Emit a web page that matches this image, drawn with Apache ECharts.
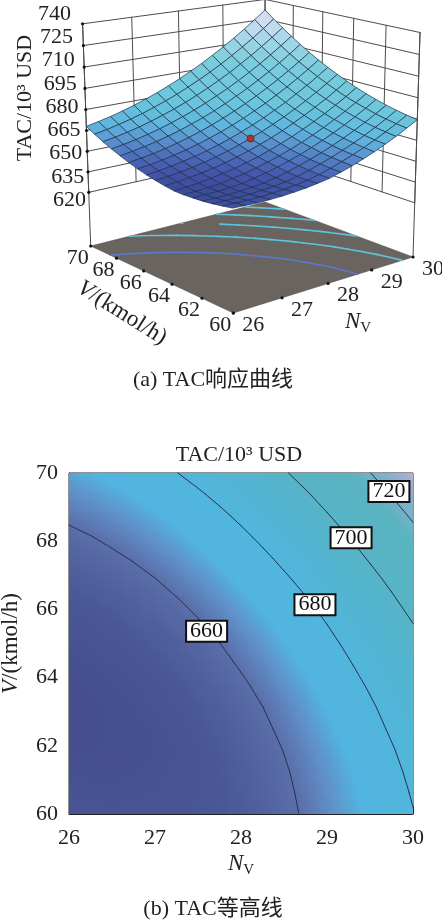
<!DOCTYPE html>
<html>
<head>
<meta charset="utf-8">
<style>
    html, body { margin: 0; padding: 0; background: #fff; }
    #main { width: 442px; height: 923px; }
</style>
<script src="https://cdn.jsdelivr.net/npm/echarts@6/dist/echarts.min.js"></script>
</head>
<body>
<div id="main"></div>
<script>
// values (contours + 3D surface)
var nGrid = [26, 26.25, 26.5, 26.75, 27, 27.25, 27.5, 27.75, 28, 28.25, 28.5, 28.75, 29, 29.25, 29.5, 29.75, 30];
var vGrid = [60, 60.625, 61.25, 61.875, 62.5, 63.125, 63.75, 64.375, 65, 65.625, 66.25, 66.875, 67.5, 68.125, 68.75, 69.375, 70];
// one row per vGrid entry, one column per nGrid entry
var tacGrid = [
    [649.5, 649.1, 648.8, 648.9, 649.2, 649.8, 650.6, 651.8, 653.2, 655.5, 658.0, 660.9, 664.0, 667.5, 671.2, 675.3, 679.6],
    [648.3, 648.1, 647.9, 648.1, 648.5, 649.1, 650.1, 651.4, 653.4, 655.8, 658.5, 661.5, 664.7, 668.3, 672.2, 676.3, 680.8],
    [647.2, 647.1, 647.1, 647.4, 648.0, 648.7, 649.8, 651.7, 653.9, 656.4, 659.2, 662.3, 665.7, 669.3, 673.3, 677.6, 682.2],
    [646.4, 646.3, 646.5, 646.9, 647.6, 648.6, 650.3, 652.3, 654.7, 657.3, 660.2, 663.4, 666.9, 670.7, 674.8, 679.2, 683.9],
    [646.0, 646.1, 646.4, 647.0, 647.9, 649.4, 651.3, 653.4, 655.8, 658.5, 661.6, 664.9, 668.5, 672.4, 676.7, 681.2, 686.0],
    [645.7, 645.9, 646.5, 647.3, 648.7, 650.3, 652.3, 654.5, 657.1, 659.9, 663.0, 666.5, 670.2, 674.3, 678.6, 683.3, 688.2],
    [645.8, 646.4, 647.2, 648.4, 649.9, 651.6, 653.7, 656.0, 658.7, 661.7, 664.9, 668.5, 672.4, 676.5, 681.0, 685.7, 690.8],
    [646.8, 647.5, 648.5, 649.7, 651.3, 653.2, 655.4, 657.9, 660.7, 663.7, 667.1, 670.8, 674.8, 679.1, 683.6, 688.5, 693.7],
    [648.0, 648.8, 649.9, 651.3, 653.0, 655.0, 657.3, 659.9, 662.8, 666.0, 669.5, 673.3, 677.4, 681.8, 686.5, 691.5, 696.8],
    [649.5, 650.4, 651.6, 653.2, 655.0, 657.1, 659.5, 662.2, 665.3, 668.6, 672.2, 676.1, 680.3, 684.9, 689.7, 694.8, 700.2],
    [651.3, 652.3, 653.7, 655.3, 657.3, 659.5, 662.0, 664.9, 668.0, 671.4, 675.2, 679.2, 683.6, 688.2, 693.1, 698.4, 703.9],
    [653.4, 654.6, 656.0, 657.8, 659.8, 662.2, 664.8, 667.8, 671.1, 674.6, 678.5, 682.6, 687.1, 691.8, 696.9, 702.2, 707.9],
    [655.8, 657.1, 658.7, 660.5, 662.7, 665.2, 668.0, 671.0, 674.4, 678.1, 682.1, 686.3, 690.9, 695.8, 701.0, 706.4, 712.2],
    [658.4, 659.8, 661.5, 663.5, 665.8, 668.4, 671.3, 674.5, 678.0, 681.8, 685.8, 690.2, 694.9, 699.9, 705.2, 710.8, 716.7],
    [661.3, 662.8, 664.6, 666.7, 669.2, 671.9, 674.9, 678.2, 681.8, 685.7, 689.9, 694.4, 699.3, 704.4, 709.8, 715.5, 721.5],
    [664.5, 666.1, 668.1, 670.3, 672.8, 675.7, 678.8, 682.2, 686.0, 690.0, 694.3, 698.9, 703.9, 709.1, 714.6, 720.5, 726.6],
    [668.0, 669.8, 671.8, 674.2, 676.8, 679.8, 683.0, 686.6, 690.4, 694.6, 699.0, 703.8, 708.8, 714.2, 719.8, 725.8, 732.0]
];
var nTicks = [26, 27, 28, 29, 30];
var vTicks = [60, 62, 64, 66, 68, 70];
var tacTicks = [620, 635, 650, 665, 680, 695, 710, 725, 740];
var floorLevels = [660, 675, 690, 705, 720];
var contourLevels = [660, 680, 700, 720];
var contourLabelN = [27.6, 28.86, 29.28, 29.72];
var contourLabelV = [65.36, 66.14, 68.1, 69.46];
var centerPoint = [28, 65, 662.8];

var SERIF = '"Liberation Serif","Noto Sans CJK SC",serif';
var TEXT = '#222';
var FLOOR_TAC = 580;

// colour stops: [TAC, colour]
var heatStops = [[646, '#454f90'], [652, '#4a5897'], [660, '#5a6ea9'], [665, '#6090c8'], [670, '#52b4e0'],
    [680, '#50b6dc'], [700, '#56b4c6'], [715, '#5ab4c0'], [725, '#8ab0cc'], [735, '#c8aed6']];
var surfStops = [[646, '#3d4a9e'], [651, '#4657ad'], [656, '#4f72bd'], [662, '#5b96d0'], [668, '#5fb6de'],
    [680, '#6cc6dc'], [700, '#7accdc'], [712, '#9ed6e6'], [722, '#c4dcee'], [732, '#e0dcf0']];

function ramp(stops, t) {
    if (t <= stops[0][0]) return stops[0][1];
    for (var k = 1; k < stops.length; k++) {
        if (t <= stops[k][0]) {
            var f = (t - stops[k - 1][0]) / (stops[k][0] - stops[k - 1][0]);
            return echarts.color.lerp(f, [stops[k - 1][1], stops[k][1]]);
        }
    }
    return stops[stops.length - 1][1];
}

// perspective camera of the 3D box, fitted on the box corners
function project(n, v, tac) {
    var x = (n - 26) / 4, y = (v - 60) / 10, u = -0.000315 * (tac - FLOOR_TAC);
    var w = 1 + 0.1152 * x + 0.1288 * y + u;
    return [
        (227.3 * x - 130.9 * y + 233.3 + 265 * u) / w,
        (-26.4 * x - 35.3 * y + 313 + 5000 * u) / w
    ];
}

// iso lines of tacGrid, as [n1, v1, n2, v2] pieces
function isoSegments(level) {
    var out = [];
    for (var j = 0; j < vGrid.length - 1; j++) {
        for (var i = 0; i < nGrid.length - 1; i++) {
            var a = tacGrid[j][i], b = tacGrid[j][i + 1], c = tacGrid[j + 1][i + 1], d = tacGrid[j + 1][i];
            var pts = [];
            if ((a - level) * (b - level) < 0) pts.push([nGrid[i] + (level - a) / (b - a) * 0.25, vGrid[j]]);
            if ((b - level) * (c - level) < 0) pts.push([nGrid[i + 1], vGrid[j] + (level - b) / (c - b) * 0.625]);
            if ((d - level) * (c - level) < 0) pts.push([nGrid[i] + (level - d) / (c - d) * 0.25, vGrid[j + 1]]);
            if ((a - level) * (d - level) < 0) pts.push([nGrid[i], vGrid[j] + (level - a) / (d - a) * 0.625]);
            if (pts.length === 2) out.push([pts[0][0], pts[0][1], pts[1][0], pts[1][1], level]);
        }
    }
    return out;
}

function collectSegments(levels) {
    var all = [];
    levels.forEach(function (l) { all = all.concat(isoSegments(l)); });
    return all;
}

function lineEl(p1, p2, color, width) {
    return {
        type: 'line',
        shape: { x1: p1[0], y1: p1[1], x2: p2[0], y2: p2[1] },
        style: { stroke: color, lineWidth: width, lineCap: 'round' }
    };
}

function dotEl(p) {
    return { type: 'circle', shape: { cx: p[0], cy: p[1], r: 1.6 }, style: { fill: '#111' } };
}

function textEl(str, x, y, align) {
    return {
        type: 'text',
        style: { text: str, x: x, y: y, align: align, verticalAlign: 'middle', fill: TEXT, font: '22px ' + SERIF }
    };
}

// back walls of the box with their grid
function renderWalls() {
    var kids = [], wall = '#4c4c4c';
    tacTicks.forEach(function (t) {
        kids.push(lineEl(project(26, 70, t), project(30, 70, t), wall, 1));
        kids.push(lineEl(project(30, 70, t), project(30, 60, t), wall, 1));
    });
    nTicks.forEach(function (n) {
        kids.push(lineEl(project(n, 70, 620), project(n, 70, 740), wall, 1));
    });
    vTicks.forEach(function (v) {
        kids.push(lineEl(project(30, v, 620), project(30, v, 740), wall, 1));
    });
    kids.push(lineEl(project(26, 70, FLOOR_TAC), project(26, 70, 740), wall, 1));
    kids.push(lineEl(project(30, 60, FLOOR_TAC), project(30, 60, 740), wall, 1));
    return { type: 'group', children: kids };
}

function renderFloor() {
    return {
        type: 'polygon',
        shape: { points: [project(26, 60, FLOOR_TAC), project(30, 60, FLOOR_TAC), project(30, 70, FLOOR_TAC), project(26, 70, FLOOR_TAC)] },
        style: { fill: '#6a6460', stroke: '#4a4642', lineWidth: 0.5 }
    };
}

function renderFloorContour(params, api) {
    var tac = api.value(4);
    return lineEl(project(api.value(0), api.value(1), FLOOR_TAC), project(api.value(2), api.value(3), FLOOR_TAC),
        tac < 665 ? '#5a78cc' : '#5cc4dc', 1.6);
}

function renderSurfaceCell(params, api) {
    var i = api.value(0), j = api.value(1);
    var pts = [
        project(nGrid[i], vGrid[j], tacGrid[j][i]),
        project(nGrid[i + 1], vGrid[j], tacGrid[j][i + 1]),
        project(nGrid[i + 1], vGrid[j + 1], tacGrid[j + 1][i + 1]),
        project(nGrid[i], vGrid[j + 1], tacGrid[j + 1][i])
    ];
    var mean = (tacGrid[j][i] + tacGrid[j][i + 1] + tacGrid[j + 1][i + 1] + tacGrid[j + 1][i]) / 4;
    return {
        type: 'polygon',
        shape: { points: pts },
        style: { fill: ramp(surfStops, mean), stroke: 'rgba(28,52,72,0.8)', lineWidth: 0.9 }
    };
}

function renderAxes3d() {
    var kids = [];
    tacTicks.forEach(function (t) {
        kids.push(dotEl(project(26, 70, t)));
        kids.push(textEl(String(t), 71 + (740 - t) / 8, 14 + (740 - t) / 15 * 23.25, 'right'));
    });
    nTicks.forEach(function (n) {
        var p = project(n, 60, FLOOR_TAC);
        kids.push(dotEl(p));
        kids.push(textEl(String(n), p[0] + 20, p[1] + 12, 'center'));
    });
    vTicks.forEach(function (v) {
        var p = project(26, v, FLOOR_TAC);
        kids.push(dotEl(p));
        kids.push(textEl(String(v), p[0] - 13, p[1] + 12, 'center'));
    });
    return { type: 'group', children: kids };
}

// smooth heat field: each cell of tacGrid is shaded in small steps
function renderHeatCell(params, api) {
    var i = api.value(2), j = api.value(3), kids = [], SUB = 6;
    var p0 = api.coord([nGrid[i], vGrid[j]]), p1 = api.coord([nGrid[i + 1], vGrid[j + 1]]);
    for (var a = 0; a < SUB; a++) {
        for (var b = 0; b < SUB; b++) {
            var fx = (a + 0.5) / SUB, fy = (b + 0.5) / SUB;
            var t = (1 - fy) * ((1 - fx) * tacGrid[j][i] + fx * tacGrid[j][i + 1]) +
                fy * ((1 - fx) * tacGrid[j + 1][i] + fx * tacGrid[j + 1][i + 1]);
            var x0 = Math.round(p0[0] + (p1[0] - p0[0]) * a / SUB), x1 = Math.round(p0[0] + (p1[0] - p0[0]) * (a + 1) / SUB);
            var y0 = Math.round(p0[1] + (p1[1] - p0[1]) * b / SUB), y1 = Math.round(p0[1] + (p1[1] - p0[1]) * (b + 1) / SUB);
            kids.push({
                type: 'rect',
                shape: { x: x0, y: Math.min(y0, y1), width: x1 - x0, height: Math.abs(y1 - y0) },
                style: { fill: ramp(heatStops, t) }
            });
        }
    }
    return { type: 'group', children: kids };
}

function renderContour(params, api) {
    return lineEl(api.coord([api.value(0), api.value(1)]), api.coord([api.value(2), api.value(3)]), '#27324f', 1);
}

var cells = [], heatCells = [];
for (var j = vGrid.length - 2; j >= 0; j--) {
    for (var i = nGrid.length - 2; i >= 0; i--) {
        cells.push([i, j]);   // back to front
        heatCells.push([nGrid[i], vGrid[j], i, j]);
    }
}

var contourLabels = contourLevels.map(function (l, k) {
    return [contourLabelN[k], contourLabelV[k], l];
});

var richName = {
    n: { fontFamily: SERIF, fontStyle: 'italic', fontSize: 23, lineHeight: 28, fill: TEXT, color: TEXT },
    s: { fontFamily: SERIF, fontSize: 15, verticalAlign: 'bottom', lineHeight: 28, fill: TEXT, color: TEXT },
    r: { fontFamily: SERIF, fontSize: 23, lineHeight: 28, fill: TEXT, color: TEXT }
};

function caption(str, x, y, rotation, size) {
    return {
        type: 'text', x: x, y: y, rotation: rotation || 0,
        style: { text: str, align: 'center', verticalAlign: 'middle', fill: TEXT, font: (size || 22) + 'px ' + SERIF, rich: richName }
    };
}

var myChart = echarts.init(document.getElementById('main'));

var option = {
    animation: false,
    backgroundColor: '#fff',
    graphic: [
        caption('TAC/10³ USD', 25, 98, Math.PI / 2),
        caption('{n|V}{r|/(kmol/h)}', 122, 313, -0.56),
        caption('{n|N}{s|V}', 358, 322),
        caption('(a) TAC响应曲线', 213, 380),
        caption('TAC/10³ USD', 239, 455),
        caption('(b) TAC等高线', 213, 909)
    ],
    grid: {
        left: 69, top: 473, width: 344, height: 341, show: true, borderColor: '#222', borderWidth: 1,
        backgroundColor: 'transparent', outerBoundsMode: 'none'
    },
    xAxis: {
        type: 'value', min: 26, max: 30, interval: 1,
        name: '{n|N}{s|V}', nameLocation: 'middle', nameGap: 36, nameMoveOverlap: false,
        nameTextStyle: { rich: richName },
        axisLine: { lineStyle: { color: '#222' } },
        axisTick: { inside: true, length: 8, lineStyle: { color: '#222' } },
        axisLabel: { color: TEXT, fontFamily: SERIF, fontSize: 22, margin: 13, hideOverlap: false },
        splitLine: { show: false }
    },
    yAxis: {
        type: 'value', min: 60, max: 70, interval: 2,
        name: '{n|V}{r|/(kmol/h)}', nameLocation: 'middle', nameGap: 44, nameMoveOverlap: false,
        nameTextStyle: { rich: richName },
        axisLine: { lineStyle: { color: '#222' } },
        axisTick: { inside: true, length: 8, lineStyle: { color: '#222' } },
        axisLabel: { color: TEXT, fontFamily: SERIF, fontSize: 22, margin: 11, hideOverlap: false },
        splitLine: { show: false }
    },
    series: [
        { type: 'custom', coordinateSystem: 'none', data: [[0]], renderItem: renderWalls, silent: true, z: 1 },
        { type: 'custom', coordinateSystem: 'none', data: [[0]], renderItem: renderFloor, silent: true, z: 2 },
        { type: 'custom', coordinateSystem: 'none', data: collectSegments(floorLevels), renderItem: renderFloorContour, silent: true, z: 3 },
        { type: 'custom', coordinateSystem: 'none', data: cells, renderItem: renderSurfaceCell, silent: true, z: 4, progressive: 0 },
        {
            type: 'custom', coordinateSystem: 'none', data: [centerPoint], silent: true, z: 5,
            renderItem: function (params, api) {
                var p = project(api.value(0), api.value(1), api.value(2));
                return { type: 'circle', shape: { cx: p[0], cy: p[1], r: 3.5 }, style: { fill: '#b3301f', stroke: '#5a2a20', lineWidth: 0.8 } };
            }
        },
        { type: 'custom', coordinateSystem: 'none', data: [[0]], renderItem: renderAxes3d, silent: true, z: 6 },
        {
            type: 'custom', coordinateSystem: 'cartesian2d', data: heatCells, renderItem: renderHeatCell,
            encode: { x: 0, y: 1 }, silent: true, z: 1, progressive: 0
        },
        {
            type: 'custom', coordinateSystem: 'cartesian2d', data: collectSegments(contourLevels), renderItem: renderContour,
            encode: { x: [0, 2], y: [1, 3] }, silent: true, z: 2, progressive: 0
        },
        {
            type: 'scatter', coordinateSystem: 'cartesian2d', data: contourLabels, symbolSize: 1, silent: true, z: 3,
            itemStyle: { color: 'transparent', opacity: 1 },
            labelLayout: { hideOverlap: false },
            label: {
                show: true, position: 'inside', opacity: 1,
                formatter: function (p) { return String(p.value[2]); },
                color: '#111', fontFamily: SERIF, fontSize: 22, lineHeight: 19,
                backgroundColor: '#fff', borderColor: '#111', borderWidth: 2, padding: [0, 3]
            }
        }
    ]
};

myChart.setOption(option);
</script>
</body>
</html>
